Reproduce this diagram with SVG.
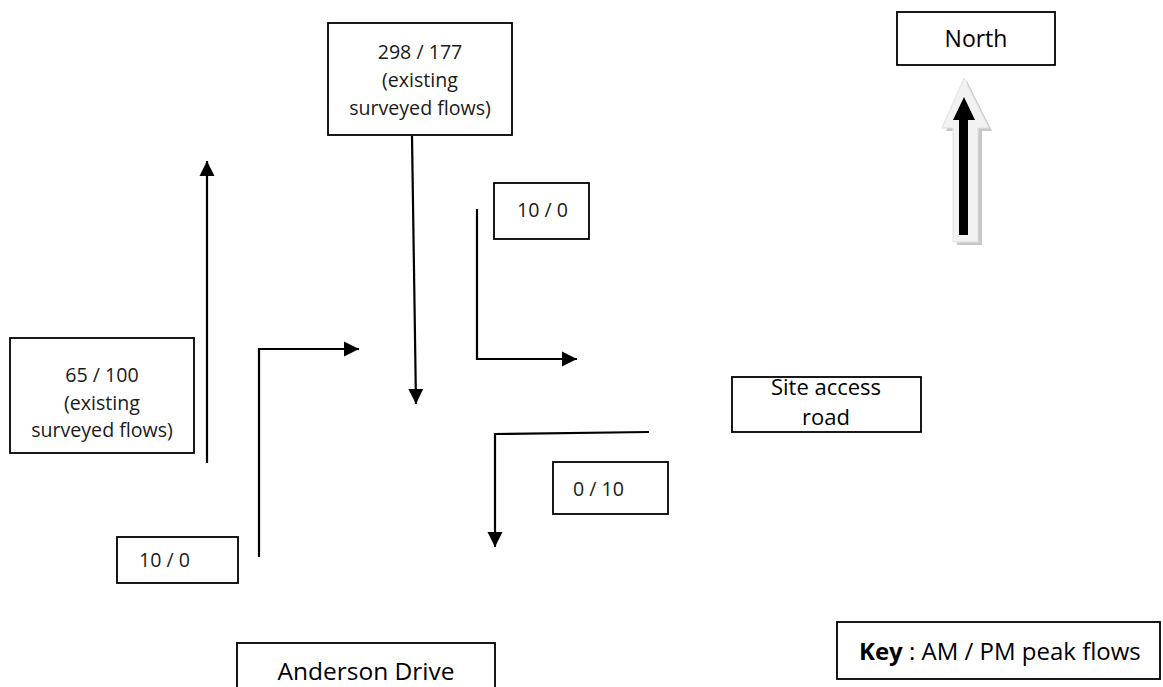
<svg xmlns="http://www.w3.org/2000/svg" width="1163" height="687" viewBox="0 0 1163 687">
  <style>
    .box { fill: #ffffff; stroke: #000000; stroke-width: 1.8; }
    .lbl { font-family: "Open Sans", "Noto Sans", "Liberation Sans", sans-serif; font-size: 19.6px; fill: #1a1a1a; }
    .big { font-family: "Open Sans", "Noto Sans", "Liberation Sans", sans-serif; font-size: 23px; fill: #000000; }
    .site { font-size: 22px; }
    .road2 { font-size: 24.5px; }
    .key { font-size: 24px; }
    .conn { fill: none; stroke: #000000; stroke-width: 2.2; marker-end: url(#ah); }
  </style>
  <defs>
    <marker id="ah" markerUnits="userSpaceOnUse" markerWidth="16" markerHeight="16" refX="15" refY="8" orient="auto">
      <path d="M0,0.5 L15,8 L0,15.5 Z" fill="#000000"/>
    </marker>
  </defs>
  <rect width="1163" height="687" fill="#ffffff"/>

  <g id="connectors">
    <line class="conn" x1="207" y1="463" x2="207" y2="161"/>
    <polyline class="conn" points="259,557 259,349 359,349"/>
    <line class="conn" x1="412" y1="136" x2="416" y2="404"/>
    <polyline class="conn" points="477,209 477,359 577,359"/>
    <polyline class="conn" points="649,432 495,434 495,547"/>
  </g>

  <g id="node-north-box">
    <rect class="box" x="897" y="12" width="158" height="53"/>
    <text class="big" x="976" y="47" text-anchor="middle">North</text>
  </g>

  <g id="node-north-arrow">
    <path d="M967,81 L992,131 L982,131 L982,245 L957,245 L957,131 L946,131 Z" fill="#c8c8c8"/>
    <path d="M964,78 L989,128 L978,128 L978,242 L953,242 L953,128 L942,128 Z" fill="#f2f2f2" stroke="#e0e0e0" stroke-width="1"/>
    <path d="M964,97 L975,120 L968,120 L968,235 L959,235 L959,120 L953,120 Z" fill="#000000"/>
  </g>

  <g id="node-298">
    <rect class="box" x="328" y="23" width="184" height="112"/>
    <text class="lbl" x="420" y="59" text-anchor="middle">298 / 177</text>
    <text class="lbl" x="420" y="87" text-anchor="middle">(existing</text>
    <text class="lbl" x="420" y="115" text-anchor="middle">surveyed flows)</text>
  </g>

  <g id="node-65">
    <rect class="box" x="10" y="338" width="184" height="115"/>
    <text class="lbl" x="102" y="382" text-anchor="middle">65 / 100</text>
    <text class="lbl" x="102" y="410" text-anchor="middle">(existing</text>
    <text class="lbl" x="102" y="437" text-anchor="middle">surveyed flows)</text>
  </g>

  <g id="node-10-0-top">
    <rect class="box" x="494" y="183" width="95" height="56"/>
    <text class="lbl" x="517" y="217">10 / 0</text>
  </g>

  <g id="node-0-10">
    <rect class="box" x="553" y="462" width="115" height="52"/>
    <text class="lbl" x="573" y="496">0 / 10</text>
  </g>

  <g id="node-10-0-bottom">
    <rect class="box" x="117" y="537" width="121" height="46"/>
    <text class="lbl" x="139" y="567">10 / 0</text>
  </g>

  <g id="node-site-access">
    <rect class="box" x="732" y="377" width="189" height="55"/>
    <text class="big site" x="826" y="395" text-anchor="middle">Site access</text>
    <text class="big site" x="826" y="425" text-anchor="middle">road</text>
  </g>

  <g id="node-anderson">
    <rect class="box" x="237" y="643" width="258" height="60"/>
    <text class="big road2" x="366" y="680" text-anchor="middle">Anderson Drive</text>
  </g>

  <g id="node-key">
    <rect class="box" x="837" y="622" width="323" height="57"/>
    <text class="big key" x="859" y="660"><tspan font-weight="bold">Key</tspan> : AM / PM peak flows</text>
  </g>
</svg>
